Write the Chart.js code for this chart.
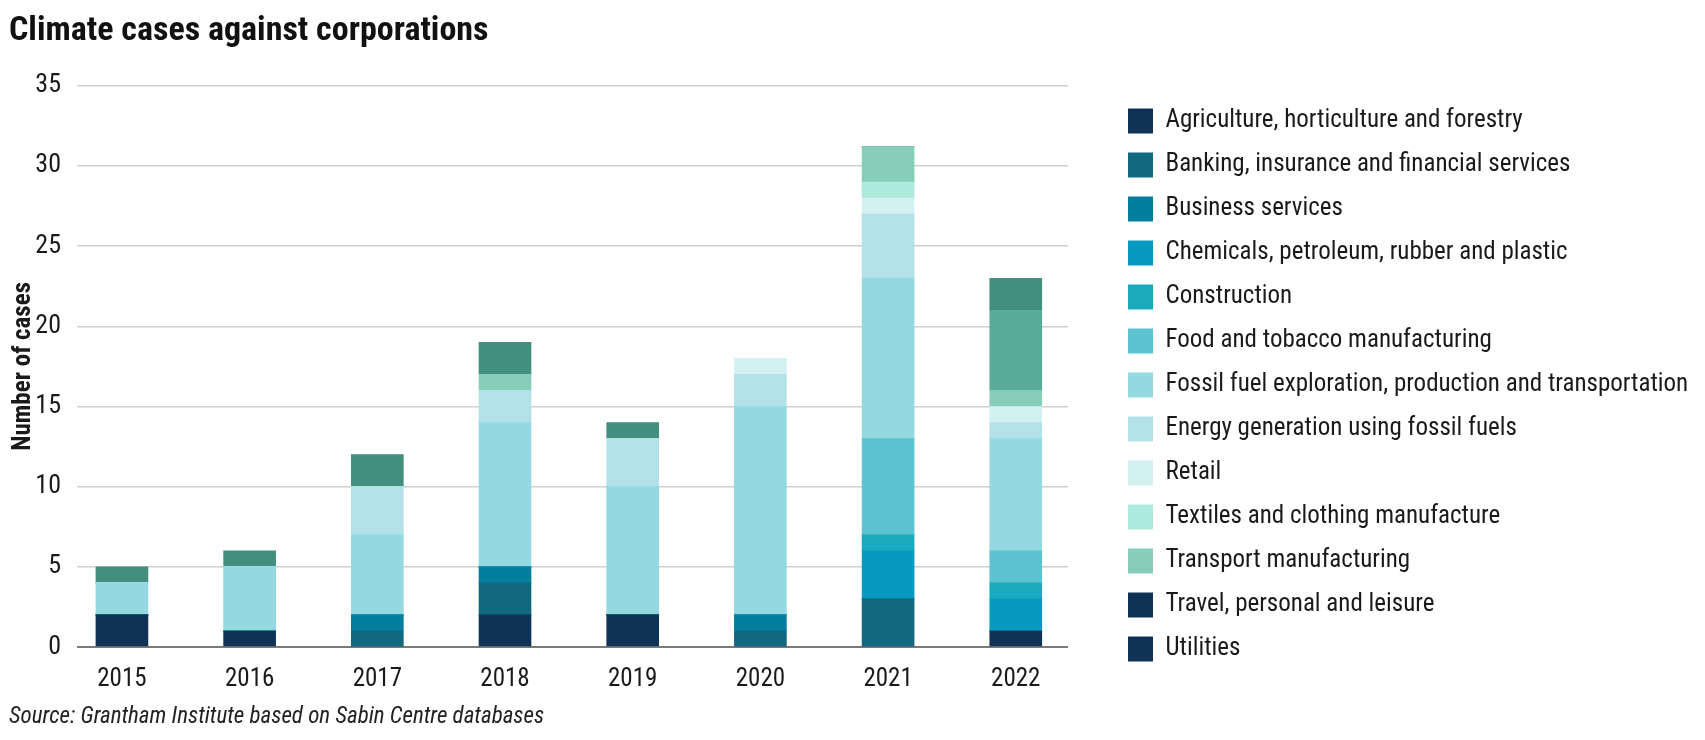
<!DOCTYPE html>
<html>
<head>
<meta charset="utf-8">
<title>Climate cases against corporations</title>
<script src="https://cdn.jsdelivr.net/npm/chart.js@4.4.1/dist/chart.umd.min.js"></script>
<style>
  html, body { margin: 0; padding: 0; background: #fff; }
  #wrap { width: 1705px; height: 740px; }
</style>
</head>
<body>
<div id="wrap"><canvas id="casesChart"></canvas></div>
<script>
// categories
const years = ['2015', '2016', '2017', '2018', '2019', '2020', '2021', '2022'];
const sectors = [
    'Agriculture, horticulture and forestry',
    'Banking, insurance and financial services',
    'Business services',
    'Chemicals, petroleum, rubber and plastic',
    'Construction',
    'Food and tobacco manufacturing',
    'Fossil fuel exploration, production and transportation',
    'Energy generation using fossil fuels',
    'Retail',
    'Textiles and clothing manufacture',
    'Transport manufacturing',
    'Travel, personal and leisure',
    'Utilities'
];

// number of cases per sector, one value per year (2015..2022)
const agriculture  = [2, 1, 0, 2, 2, 0, 0, 1];
const banking      = [0, 0, 1, 2, 0, 1, 3, 0];
const business     = [0, 0, 1, 1, 0, 1, 0, 0];
const chemicals    = [0, 0, 0, 0, 0, 0, 3, 2];
const construction = [0, 0, 0, 0, 0, 0, 1, 1];
const food         = [0, 0, 0, 0, 0, 0, 6, 2];
const fossilFuel   = [2, 4, 5, 9, 8, 13, 10, 7];
const energyGen    = [0, 0, 3, 2, 3, 2, 4, 1];
const retail       = [0, 0, 0, 0, 0, 1, 1, 1];
const textiles     = [0, 0, 0, 0, 0, 0, 1, 0];
const transport    = [0, 0, 0, 1, 0, 0, 2.2, 1];
const travel       = [0, 0, 0, 0, 0, 0, 0, 5];
const utilities    = [1, 1, 2, 2, 1, 0, 0, 2];

const yTicks = [0, 5, 10, 15, 20, 25, 30, 35];

const series = [agriculture, banking, business, chemicals, construction, food, fossilFuel,
    energyGen, retail, textiles, transport, travel, utilities];

// bar colours, and the swatches the legend shows
const barColors = ['#0f3354', '#10697e', '#037e9c', '#079ac0', '#19aabd', '#5bc3d1', '#94d8e0',
    '#b3e1e8', '#d3f0f3', '#aeeadc', '#86cdba', '#58ac98', '#438f7d'];
const legendColors = ['#0f3354', '#10697e', '#037e9c', '#079ac0', '#19aabd', '#5bc3d1', '#94d8e0',
    '#b3e1e8', '#d3f0f3', '#aeeadc', '#86cdba', '#0f3354', '#0f3354'];

const FONT = "'Roboto Condensed', 'Noto Sans Condensed', 'Liberation Sans Narrow', 'DejaVu Sans Condensed', sans-serif";
const INK = '#1a1a1a';

Chart.defaults.font.family = FONT;
Chart.defaults.color = INK;

// keep the legend a fixed width so the plot ends where the reference does
const legendWidth = {
    id: 'legendWidth',
    afterInit(chart) {
        const legend = chart.legend;
        if (!legend) return;
        const fit = legend.fit;
        legend.fit = function () {
            fit.call(this);
            this.width = 596;
        };
    }
};

document.addEventListener('DOMContentLoaded', function () {
    const ctx = document.getElementById('casesChart');

    new Chart(ctx, {
        type: 'bar',
        data: {
            datasets: sectors.map((label, i) => ({
                label: label,
                data: series[i].map((v, j) => ({ x: j, y: v })),
                backgroundColor: barColors[i],
                borderWidth: 0,
                barThickness: 52
            }))
        },
        plugins: [legendWidth],
        options: {
            responsive: true,
            maintainAspectRatio: false,
            animation: false,
            layout: {
                padding: { left: 9, right: 0, top: 0, bottom: 0 }
            },
            plugins: {
                title: {
                    display: true,
                    text: 'Climate cases against corporations',
                    align: 'start',
                    color: '#111',
                    font: { size: 34, weight: 'bold' },
                    padding: { top: 11, bottom: 34 }
                },
                subtitle: {
                    display: true,
                    position: 'bottom',
                    text: 'Source: Grantham Institute based on Sabin Centre databases',
                    align: 'start',
                    color: '#222',
                    font: { size: 23, style: 'italic' },
                    padding: { top: 0, bottom: 9 }
                },
                legend: {
                    position: 'right',
                    align: 'center',
                    title: { display: true, text: ' ', font: { size: 10 }, padding: 9 },
                    labels: {
                        boxWidth: 25,
                        boxHeight: 25,
                        padding: 19,
                        color: INK,
                        font: { size: 25 },
                        generateLabels: function (chart) {
                            const items = Chart.defaults.plugins.legend.labels.generateLabels(chart);
                            return items.map((item, i) => Object.assign(item, {
                                fillStyle: legendColors[i],
                                strokeStyle: legendColors[i],
                                lineWidth: 0
                            }));
                        }
                    }
                },
                tooltip: { enabled: false }
            },
            scales: {
                x: {
                    type: 'linear',
                    stacked: true,
                    offset: false,
                    min: -0.352,
                    max: 7.409,
                    grid: { display: false, drawTicks: false },
                    border: { display: false },
                    afterBuildTicks: function (scale) {
                        scale.ticks = years.map((_, i) => ({ value: i }));
                    },
                    afterFit: function (scale) {
                        scale.height = 56.4;
                    },
                    ticks: {
                        autoSkip: false,
                        maxRotation: 0,
                        padding: 18,
                        color: INK,
                        font: { size: 25 },
                        callback: function (value) { return years[value]; }
                    }
                },
                y: {
                    stacked: true,
                    min: 0,
                    max: 35,
                    afterBuildTicks: function (scale) {
                        scale.ticks = yTicks.map(v => ({ value: v }));
                    },
                    afterFit: function (scale) {
                        scale.width = 68;
                    },
                    grid: {
                        drawTicks: false,
                        color: c => c.tick.value === 0 ? '#7a7a7a' : '#d0d0d0',
                        lineWidth: c => c.tick.value === 0 ? 2 : 1.5
                    },
                    border: { display: false },
                    title: {
                        display: true,
                        text: 'Number of cases',
                        color: INK,
                        font: { size: 25, weight: 'bold' },
                        padding: 0
                    },
                    ticks: {
                        padding: 16,
                        color: INK,
                        font: { size: 26 }
                    }
                },
                // empty axis that only keeps a gap between the plot and the legend
                gap: {
                    type: 'linear',
                    position: 'right',
                    display: true,
                    grid: { display: false, drawTicks: false },
                    border: { display: false },
                    ticks: { display: false },
                    afterFit: function (scale) {
                        scale.width = 41;
                    }
                }
            }
        }
    });
});
</script>
</body>
</html>
